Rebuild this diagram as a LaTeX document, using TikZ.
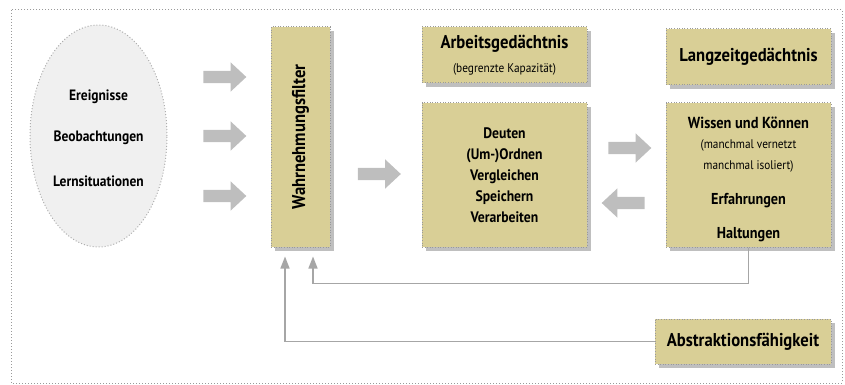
\documentclass[tikz,border=0pt]{standalone}
\usepackage{fontspec}
\setmainfont[FakeStretch=0.9]{PT Sans}
\usetikzlibrary{shapes.geometric,shapes.arrows,shadows,arrows.meta,calc}
\definecolor{khaki}{HTML}{D9CF96}
\definecolor{dotgray}{HTML}{9A9A9A}
\definecolor{arrgray}{HTML}{BEBEBE}
\definecolor{linegray}{HTML}{A6A6A6}
\definecolor{ellfill}{HTML}{F0F0F0}
\tikzset{
  frame/.style={draw=dotgray, line width=1pt, dash pattern=on 1pt off 2pt},
  box/.style={draw=dotgray, line width=1pt, dash pattern=on 1pt off 1.6pt, fill=khaki,
    drop shadow={shadow xshift=4pt, shadow yshift=-4pt, fill=black, opacity=0.25},
    inner sep=0pt, align=center},
  blockarrow/.style={single arrow, fill=arrgray, draw=none, inner sep=6pt,
    minimum height=43pt, single arrow head extend=8.5pt, single arrow tip angle=86},
  conn/.style={draw=linegray, line width=1.5pt, -{Triangle[length=12pt,width=9pt]}, shorten >=9pt},
  big/.style={font=\fontsize{18.5}{20}\selectfont\bfseries},
  elltext/.style={font=\fontsize{15}{17}\selectfont\bfseries},
}
\begin{document}
\begin{tikzpicture}[x=1pt,y=-1pt]
\useasboundingbox (0,0) rectangle (845,385);
\draw[frame] (11,10) rectangle (842,383);

\node[ellipse, draw=dotgray!80, line width=1pt, dash pattern=on 1pt off 2pt, fill=ellfill,
  minimum width=137pt, minimum height=222pt, inner sep=0pt] (ell) at (98.5,136) {};
\node[elltext] (t1) at (98.5,97) {Ereignisse};
\node[elltext] (t2) at (98.5,138) {Beobachtungen};
\node[elltext] (t3) at (98.5,181) {Lernsituationen};

\node[blockarrow] (a1) at (221.5,77) {};
\node[blockarrow] (a2) at (221.5,136) {};
\node[blockarrow] (a3) at (221.5,196) {};

\node[box, minimum width=59pt, minimum height=220pt] (filter) at (300.5,137) {};
\node[rotate=90, big] (ftext) at (filter.center) {Wahrnehmungsfilter};

\node[blockarrow] (a4) at (376,174) {};

\node[box, minimum width=165pt, minimum height=56pt, font=\fontsize{12.6}{17}\selectfont] (arb) at (504.5,55)
  {{\fontsize{18.5}{22}\selectfont\bfseries Arbeitsgedächtnis}\\[6.5pt]
   (begrenzte Kapazität)};
\node[box, minimum width=165pt, minimum height=144pt, font=\fontsize{15.2}{21}\selectfont\bfseries] (mid) at (504.5,175)
  {Deuten\\(Um-)Ordnen\\Vergleichen\\Speichern\\Verarbeiten};

\node[box, minimum width=165pt, minimum height=56pt, big] (lang) at (748.5,57) {Langzeitgedächtnis};
\node[box, minimum width=165pt, minimum height=144pt, font=\fontsize{12.5}{20.5}\selectfont] (wis) at (748.5,175)
  {\rule{0pt}{20pt}{\fontsize{16}{20.5}\selectfont\bfseries Wissen und Können}\\
   (manchmal vernetzt\\
   manchmal isoliert)\\[14.5pt]
   {\fontsize{15.8}{20.5}\selectfont\bfseries Erfahrungen}\\[13.5pt]
   {\fontsize{15.8}{20.5}\selectfont\bfseries Haltungen}};

\node[blockarrow] (a5) at (626.5,148) {};
\node[blockarrow, shape border rotate=180] (a6) at (626.5,203) {};

\node[box, minimum width=176pt, minimum height=45pt, big] (abs) at (743,341.5) {Abstraktionsfähigkeit};

\draw[conn] (wis.south) -- ++(0,36) -| ([xshift=12.5pt]filter.south);
\draw[conn] (abs.west) -| ([xshift=-15.5pt]filter.south);
\end{tikzpicture}
\end{document}
